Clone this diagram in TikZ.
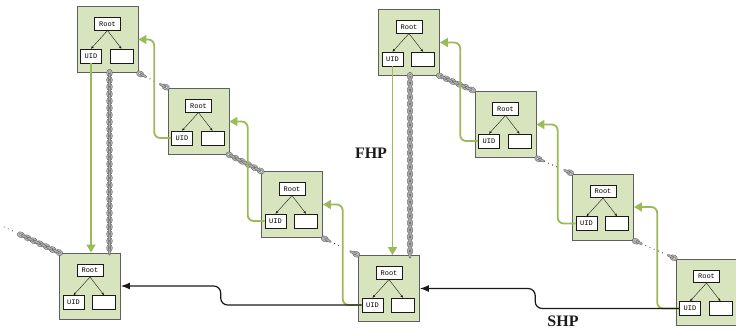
\documentclass[tikz,border=0pt]{standalone}
\usepackage{fontspec}
\setmainfont{Liberation Serif}
\setmonofont{Liberation Mono}
\usepackage{tikz}
\usetikzlibrary{positioning,calc,arrows.meta,decorations.markings}
\definecolor{sage}{HTML}{D7E4BD}
\definecolor{slate}{HTML}{5F5F5F}
\definecolor{leaf}{HTML}{9BBB59}
\definecolor{steel}{HTML}{9A9A9A}
\definecolor{ink}{HTML}{1A1A1A}

\begin{document}
\begin{tikzpicture}[
    x=1pt, y=-1pt, >={Stealth[round]},
    blk/.style={draw=slate,line width=0.9pt,fill=sage,minimum width=61pt,minimum height=66pt,inner sep=0pt},
    cell/.style={draw=ink,line width=0.6pt,fill=white,inner sep=0pt,minimum height=12.5pt,font=\ttfamily\fontsize{7}{8}\selectfont},
    rootcell/.style={cell,minimum width=26pt},
    uidcell/.style={cell,minimum width=21pt,minimum height=14pt},
    emptycell/.style={cell,minimum width=23pt,minimum height=14pt},
    tie/.style={->,ink,line width=0.4pt,>={Stealth[length=3pt,width=2.4pt]}},
    fhpline/.style={->,leaf,line width=1.8pt,rounded corners=6pt,>={Triangle[length=8pt,width=9pt]}},
    shpline/.style={->,ink,line width=1.2pt,rounded corners=7pt,>={Latex[length=9pt,width=7pt]}},
    links/.style={decoration={markings,
        mark=between positions 0 and 1 step 7pt with {\filldraw[fill=steel!70,draw=steel!60!black,line width=0.35pt] (0,0) ellipse (3.8pt and 2.9pt); \filldraw[fill=white,draw=steel!60!black,line width=0.3pt] (0,0) ellipse (2pt and 1pt);},
        mark=between positions 3.5pt and 1 step 7pt with {\filldraw[fill=steel!80,draw=steel!60!black,line width=0.35pt] (0,0) ellipse (3.8pt and 1.2pt);}},
      postaction={decorate}},
    gap/.style={ink,line width=1.1pt,line cap=round,dash pattern=on 0pt off 4.5pt},
    tag/.style={font=\bfseries\fontsize{16}{18}\selectfont,text=ink},
  ]
  \useasboundingbox (0,0) rectangle (736,330);
  % blocks
  \foreach \n/\x/\y in {a1/107.5/39.5, a2/198.5/121.5, a3/292/204.5, a4/90/286,
      b1/409/42.5, b2/505.5/124.5, b3/603/207, b4/389/288.5, b5/706.5/292}{
    \node[blk] (\n) at (\x,\y) {};
    \node[rootcell] (\n-r) at (\x,\y-15.5) {Root};
    \node[uidcell] (\n-u) at (\x-16.5,\y+16.5) {UID};
    \node[emptycell] (\n-e) at (\x+14,\y+16.5) {};
    \draw[tie] (\n-r.south) -- (\n-u.north);
    \draw[tie] (\n-r.south) -- (\n-e.north);
  }
  % chains
  \path[links] ([xshift=2pt]a1.south) -- ([xshift=2pt]a1.south |- a4.north);
  \path[links] ([xshift=1pt]b1.south) -- ([xshift=1pt]b1.south |- b4.north);
  \path[links] (a2.south east) -- (a3.north west);
  \path[links] (b1.south east) -- (b2.north west);
  \foreach \p/\q in {a1/a2, a3/b4, b2/b3, b3/b5}{
    \path[links] ($(\p.south east)!2pt!(\q.north west)$) -- ($(\p.south east)!6pt!(\q.north west)$);
    \draw[gap] ($(\p.south east)!13pt!(\q.north west)$) -- ($(\q.north west)!13pt!(\p.south east)$);
    \path[links] ($(\q.north west)!2pt!(\p.south east)$) -- ($(\q.north west)!6pt!(\p.south east)$);
  }
  \coordinate (edge) at (2,226);
  \path[links] (a4.north west) -- ($(a4.north west)!0.72!(edge)$);
  \draw[gap] ($(a4.north west)!0.82!(edge)$) -- (edge);
  % first hop pointers
  \draw[fhpline] (a1-u.south) -- (a1-u.south |- a4.north);
  \draw[fhpline] (b1-u.south) -- (b1-u.south |- b4.north);
  \foreach \s/\t/\d in {a2/a1/17, a3/a2/17, b4/a3/19, b2/b1/18, b3/b2/18, b5/b3/22}
    \draw[fhpline] (\s-u.west) -- ++(-\d,0) |- (\t.east);
  % second hop pointers
  \draw[shpline] (b4-u.west) -- ++(-141,0) |- (a4.east);
  \draw[shpline] (b5-u.west) -- ++(-144,0) |- (b4.east);
  \node[tag] (fhp) at (371,153.5) {FHP};
  \node[tag] (shp) at (563,321) {SHP};
\end{tikzpicture}
\end{document}
